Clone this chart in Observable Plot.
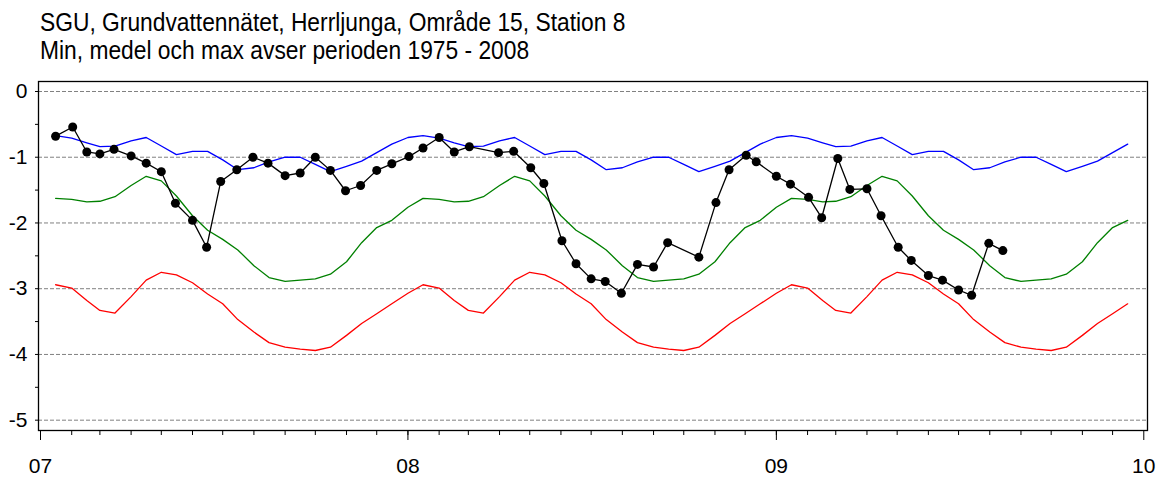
<!DOCTYPE html>
<html>
<head>
<meta charset="utf-8">
<script src="https://cdn.jsdelivr.net/npm/d3@7"></script>
<script src="https://cdn.jsdelivr.net/npm/@observablehq/plot@0.6"></script>
<style>
  html, body { margin: 0; padding: 0; background: #fff; }
  body { font-family: "Liberation Sans", Arial, sans-serif; width: 1161px; }
  #title { position: relative; width: 1161px; height: 70px; }
  #title div { position: absolute; left: 40px; font-size: 22.8px; line-height: 1; color: #000; white-space: nowrap;
               transform: scaleY(1.12); transform-origin: 0 0; }
  #chart svg { display: block; }
</style>
</head>
<body>
<div id="title">
  <div style="top:10px">SGU, Grundvattennätet, Herrljunga, Område 15, Station 8</div>
  <div style="top:38px">Min, medel och max avser perioden 1975 - 2008</div>
</div>
<div id="chart"></div>
<script>
// ---- Data ----
// Observed groundwater level (m), Station 8
const obsDates = [
  "2007-01-16","2007-02-02","2007-02-16","2007-03-01","2007-03-15","2007-04-01","2007-04-16","2007-05-01",
  "2007-05-15","2007-06-01","2007-06-15","2007-06-29","2007-07-15","2007-07-31","2007-08-15","2007-09-01",
  "2007-09-16","2007-10-01","2007-10-16","2007-10-31","2007-11-15","2007-12-01","2007-12-16",
  "2008-01-02","2008-01-16","2008-02-01","2008-02-16","2008-03-02","2008-03-31","2008-04-15","2008-05-02",
  "2008-05-15","2008-06-02","2008-06-16","2008-07-01","2008-07-15","2008-07-31","2008-08-16","2008-09-01",
  "2008-09-15","2008-10-16","2008-11-02","2008-11-15","2008-12-02","2008-12-12",
  "2009-01-01","2009-01-15","2009-02-02","2009-02-15","2009-03-03","2009-03-15","2009-04-01","2009-04-15",
  "2009-05-02","2009-05-15","2009-06-01","2009-06-15","2009-07-01","2009-07-14","2009-07-31","2009-08-14"
];
const obsLevels = [
  -0.68, -0.54, -0.92, -0.95, -0.88, -0.98, -1.09, -1.22,
  -1.70, -1.96, -2.37, -1.37, -1.19, -1.00, -1.09, -1.28,
  -1.24, -1.00, -1.20, -1.51, -1.43, -1.20, -1.10,
  -0.99, -0.86, -0.70, -0.92, -0.84, -0.93, -0.91, -1.16,
  -1.40, -2.27, -2.62, -2.85, -2.89, -3.07, -2.63, -2.67,
  -2.30, -2.52, -1.69, -1.19, -0.97, -1.07,
  -1.29, -1.41, -1.61, -1.92, -1.02, -1.49, -1.48, -1.89,
  -2.37, -2.57, -2.80, -2.87, -3.02, -3.10, -2.31, -2.42
];

// Half-monthly statistics for the reference period 1975 - 2008
const periodDays = ["01-01","01-16","02-01","02-16","03-01","03-16","04-01","04-16","05-01","05-16","06-01","06-16",
                    "07-01","07-16","08-01","08-16","09-01","09-16","10-01","10-16","11-01","11-16","12-01","12-16"];
const minLevel  = [-0.70, -0.67, -0.71, -0.78, -0.84, -0.83, -0.75, -0.70, -0.83, -0.96, -0.91, -0.91,
                   -1.04, -1.19, -1.16, -1.07, -1.00, -1.00, -1.11, -1.22, -1.14, -1.06, -0.93, -0.80];
const meanLevel = [-1.76, -1.625, -1.64, -1.68, -1.67, -1.60, -1.43, -1.29, -1.36, -1.59, -1.89, -2.11,
                   -2.25, -2.41, -2.65, -2.83, -2.89, -2.87, -2.85, -2.78, -2.59, -2.30, -2.07, -1.96];
const maxLevel  = [-3.07, -2.94, -2.99, -3.18, -3.33, -3.37, -3.12, -2.87, -2.75, -2.79, -2.91, -3.08,
                   -3.23, -3.47, -3.66, -3.82, -3.89, -3.92, -3.94, -3.89, -3.71, -3.53, -3.38, -3.23];
const statYears = [2007, 2008, 2009];
const statStart = "2007-01-16";

// Axis ticks
const yearTicks = ["2007-01-01","2008-01-01","2009-01-01","2010-01-01"];
const yearLabels = ["07","08","09","10"];
const gridLevels = [0, -1, -2, -3, -4, -5];
const yTickLevels = [0, -0.5, -1, -1.5, -2, -2.5, -3, -3.5, -4, -4.5, -5];

// ---- Tables ----
const obs = obsDates.map((d, i) => ({date: new Date(d + "T00:00:00Z"), level: obsLevels[i]}));
const startDate = new Date(statStart + "T00:00:00Z");
const stats = statYears.flatMap(y => periodDays.map((p, i) => ({
  date: new Date(`${y}-${p}T00:00:00Z`), min: minLevel[i], mean: meanLevel[i], max: maxLevel[i]
}))).filter(d => d.date >= startDate);
const yearTickDates = yearTicks.map(d => new Date(d + "T00:00:00Z"));
const monthTickDates = d3.utcMonth.range(yearTickDates[0], yearTickDates[yearTickDates.length - 1]);
const yearLabelOf = new Map(yearTickDates.map((d, i) => [+d, yearLabels[i]]));

const font = '"Liberation Sans", Arial, sans-serif';

const chart = Plot.plot({
  width: 1161,
  height: 407,
  marginTop: 11,
  marginBottom: 47,
  marginLeft: 38,
  marginRight: 14,
  style: {fontFamily: font, fontSize: "21px", background: "#fff", color: "#000", overflow: "visible"},
  x: {type: "utc", domain: [new Date(Date.UTC(2006, 11, 30, 0, 10)), new Date(Date.UTC(2010, 0, 4, 16, 20))]},
  y: {domain: [-5.157, 0.152]},
  marks: [
    Plot.ruleY(gridLevels, {stroke: "#808080", strokeWidth: 1, strokeDasharray: "4,2"}),
    Plot.axisY(yTickLevels, {
      anchor: "left", tickSize: 3, tickPadding: 8, label: null, fontSize: 21,
      tickFormat: d => Number.isInteger(d) ? String(d) : ""
    }),
    Plot.axisX(monthTickDates, {anchor: "bottom", tickSize: 5, label: null, fill: "none"}),
    Plot.axisX(yearTickDates, {
      anchor: "bottom", tickSize: 10, tickPadding: 18, label: null, fontSize: 21,
      tickFormat: d => yearLabelOf.get(+d)
    }),
    Plot.line(stats, {x: "date", y: "min", stroke: "#0000ff", strokeWidth: 1.3}),
    Plot.line(stats, {x: "date", y: "mean", stroke: "#008000", strokeWidth: 1.3}),
    Plot.line(stats, {x: "date", y: "max", stroke: "#ff0000", strokeWidth: 1.3}),
    Plot.line(obs, {x: "date", y: "level", stroke: "#000", strokeWidth: 1.3}),
    Plot.dot(obs, {x: "date", y: "level", r: 4.5, fill: "#000", stroke: "none"}),
    Plot.frame({stroke: "#000", strokeWidth: 1.3})
  ]
});
document.getElementById("chart").appendChild(chart);
</script>
</body>
</html>
